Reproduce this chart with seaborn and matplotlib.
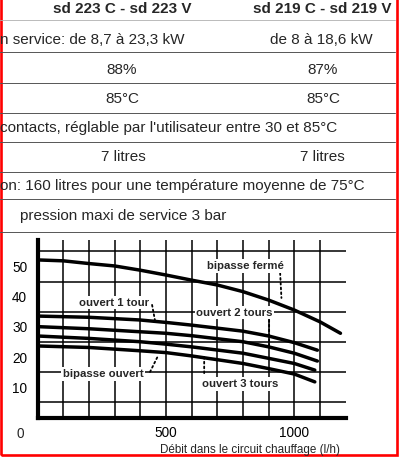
import numpy as np
import pandas as pd
import matplotlib
matplotlib.use("Agg")
import matplotlib.pyplot as plt
from matplotlib.lines import Line2D
from matplotlib.patches import Rectangle
import seaborn as sns

# --- data -------------------------------------------------------------------
curve_names = ["bipasse fermé", "ouvert 1 tour", "ouvert 2 tours",
               "ouvert 3 tours", "bipasse ouvert"]
x_ferme = [0, 100, 200, 300, 400, 500, 600, 700, 800, 900, 1000, 1100, 1180]
y_ferme = [52.2, 51.9, 51.0, 50.2, 48.8, 47.2, 45.5, 43.9, 41.7, 38.9, 35.6, 31.7, 27.9]
x_open_a = [0, 200, 400, 500, 600, 800, 900, 1000, 1090]
x_open_b = [0, 200, 400, 500, 600, 800, 900, 1000, 1080]
y_1tour = [33.6, 33.2, 32.3, 31.5, 30.6, 28.6, 27.0, 24.8, 22.3]
y_2tours = [30.1, 29.4, 28.4, 27.9, 27.1, 25.1, 23.4, 21.3, 18.7]
y_3tours = [27.0, 26.2, 25.1, 24.3, 23.4, 21.3, 19.6, 17.9, 15.7]
y_ouvert = [23.7, 23.2, 22.1, 21.5, 20.4, 17.9, 16.2, 14.4, 11.8]

# horizontal rules that survive on the scan
y_rules = [5, 10, 15, 25, 35, 45, 55]

# label anchor (x, y) and leader line (x0, y0, x1, y1) in data units
label_pos = [(808, 50.2), (298, 38.0), (767, 34.7), (789, 11.1), (255, 14.4)]
leaders = [(945, 47.8, 950, 39.6), (446, 37.3, 457, 32.3), (902, 32.3, 902, 24.0),
           (649, 14.7, 649, 20.7), (438, 15.1, 469, 20.4)]

xlabel = "Débit dans le circuit chauffage (l/h)"

# table above the chart (text is cut at the left edge, as on the scan)
header = ["sd 223 C - sd 223 V", "sd 219 C - sd 219 V"]
rows_two = [("n service: de 8,7 à 23,3 kW", "de 8 à 18,6 kW"),
            ("88%", "87%"),
            ("85°C", "85°C")]
row_contacts = "contacts, réglable par l'utilisateur entre 30 et 85°C"
row_litres = ("7 litres", "7 litres")
row_capacite = "on: 160 litres pour une température moyenne de 75°C"
row_pression = "pression maxi de service 3 bar"

# --- frame ------------------------------------------------------------------
sns.set_theme(style="white")
plt.rcParams["font.family"] = ["Liberation Sans", "DejaVu Sans"]

W, H = 401, 457
fig = plt.figure(figsize=(W / 100, H / 100), dpi=100)
fig.patch.set_facecolor("white")


def fx(px):
    return px / W


def fy(py):
    return 1 - py / H


ax = fig.add_axes([fx(37.6), fy(417.5), (345.6 - 37.6) / W, (417.5 - 240) / H])

frames = [pd.DataFrame({"debit": x_ferme, "temp": y_ferme, "courbe": curve_names[0]})]
for name, xs, ys in [(curve_names[1], x_open_a, y_1tour),
                     (curve_names[2], x_open_a, y_2tours),
                     (curve_names[3], x_open_b, y_3tours),
                     (curve_names[4], x_open_b, y_ouvert)]:
    frames.append(pd.DataFrame({"debit": xs, "temp": ys, "courbe": name}))
df = pd.concat(frames, ignore_index=True)

sns.lineplot(data=df, x="debit", y="temp", hue="courbe", units="courbe",
             estimator=None, palette=["black"] * 5, linewidth=2.5,
             legend=False, ax=ax, zorder=4)

ax.set_xlim(0, 1200)
ax.set_ylim(0, 58.8)
ax.set_xticks([500, 1000])
ax.set_xticks(np.arange(100, 1200, 100), minor=True)
ax.set_yticks([10, 20, 30, 40, 50])
ax.set_yticks(y_rules, minor=True)
ax.set_xticklabels(["500", "1000"])
ax.set_yticklabels(["10", "20", "30", "40", "50"])
ax.tick_params(axis="both", which="both", length=0, labelsize=9.8, colors="black")
ax.tick_params(axis="x", pad=6)
ax.tick_params(axis="y", pad=7.5)
ax.xaxis.grid(True, which="both", color="black", linewidth=1.1)
ax.yaxis.grid(True, which="minor", color="black", linewidth=1.1)
ax.yaxis.grid(False, which="major")
ax.set_axisbelow(True)
for side in ["top", "right"]:
    ax.spines[side].set_visible(False)
for side in ["left", "bottom"]:
    ax.spines[side].set_color("black")
    ax.spines[side].set_linewidth(3)
ax.set_xlabel("")
ax.set_ylabel("")
ax.annotate("0", xy=(0, 0), xytext=(-17, -16), textcoords="offset pixels",
            ha="center", va="center", fontsize=9.8)
fig.text(fx(340), fy(450), xlabel, ha="right", va="center", fontsize=8.4)

for name, (lx, ly), (x0, y0, x1, y1) in zip(curve_names, label_pos, leaders):
    ax.text(lx, ly, name, ha="center", va="center", fontsize=8.2,
            fontweight="bold", zorder=6,
            bbox=dict(facecolor="white", edgecolor="none", pad=1.2))
    ax.annotate("", xy=(x1, y1), xytext=(x0, y0),
                arrowprops=dict(arrowstyle="-", linestyle=":", lw=1.3,
                                color="black", shrinkA=0, shrinkB=0),
                zorder=5)

# --- table ------------------------------------------------------------------
tsize = 11
fig.text(fx(122), fy(9), header[0], ha="center", va="center",
         fontsize=tsize, fontweight="bold")
fig.text(fx(322), fy(9), header[1], ha="center", va="center",
         fontsize=tsize, fontweight="bold")
fig.text(fx(0), fy(40), rows_two[0][0], ha="left", va="center", fontsize=tsize)
fig.text(fx(321), fy(40), rows_two[0][1], ha="center", va="center", fontsize=tsize)
fig.text(fx(122), fy(70), rows_two[1][0], ha="center", va="center", fontsize=tsize)
fig.text(fx(323), fy(70), rows_two[1][1], ha="center", va="center", fontsize=tsize)
fig.text(fx(122), fy(99), rows_two[2][0], ha="center", va="center", fontsize=tsize)
fig.text(fx(323), fy(99), rows_two[2][1], ha="center", va="center", fontsize=tsize)
fig.text(fx(0), fy(128), row_contacts, ha="left", va="center", fontsize=tsize)
fig.text(fx(123), fy(157), row_litres[0], ha="center", va="center", fontsize=tsize)
fig.text(fx(322), fy(157), row_litres[1], ha="center", va="center", fontsize=tsize)
fig.text(fx(0), fy(186), row_capacite, ha="left", va="center", fontsize=tsize)
fig.text(fx(20), fy(216), row_pression, ha="left", va="center", fontsize=tsize)

for py, col, lw in [(20, "#b0b0b0", 0.6), (52, "#555555", 0.7), (83, "#555555", 0.7),
                    (113, "#555555", 0.7), (142, "#555555", 0.7), (172, "#555555", 0.7),
                    (199, "#555555", 0.7), (232, "#555555", 0.7)]:
    fig.add_artist(Line2D([fx(0), fx(395)], [fy(py), fy(py)], color=col, lw=lw))

# red frame of the scan (top edge is off the picture)
fig.add_artist(Rectangle((fx(1.2), fy(455)), fx(396.5 - 1.2), fy(-10) - fy(455),
                         fill=False, edgecolor="red", linewidth=1.9))

fig.savefig("out.png", dpi=100, facecolor="white")
